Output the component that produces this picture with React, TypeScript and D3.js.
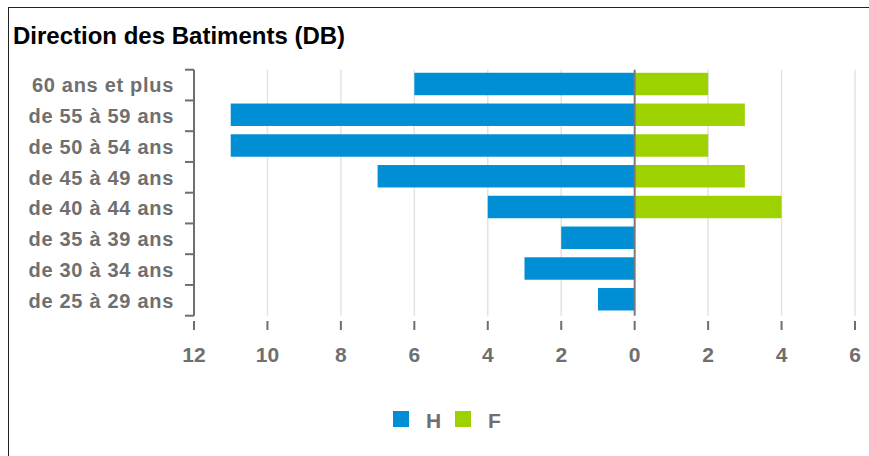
import React from 'react';
import * as d3 from 'd3';

// age groups, top to bottom
const categories = [
  '60 ans et plus',
  'de 55 à 59 ans',
  'de 50 à 54 ans',
  'de 45 à 49 ans',
  'de 40 à 44 ans',
  'de 35 à 39 ans',
  'de 30 à 34 ans',
  'de 25 à 29 ans',
];
const hommes = [6, 11, 11, 7, 4, 2, 3, 1];
const femmes = [2, 3, 2, 3, 4, 0, 0, 0];
const xTicks = [-12, -10, -8, -6, -4, -2, 0, 2, 4, 6];
const series = [
  { key: 'H', color: '#008fd5' },
  { key: 'F', color: '#9dd100' },
];

const W = 869;
const H = 456;
const FONT = 'Liberation Sans, Arial, sans-serif';
const GREY = '#6f6f6f';

const App = () => {
  const x = d3.scaleLinear().domain([-12, 6]).range([194, 855]);
  const y = d3.scaleBand().domain(categories).range([69.7, 315.7]).padding(0);
  const bw = y.bandwidth();
  const barY = (c: string) => (y(c) as number) + bw * 0.1;
  const barH = bw * 0.73;

  return (
    <svg width={W} height={H} style={{ position: 'absolute', left: 0, top: 0, background: '#fff' }}>
      {/* frame */}
      <rect x={8.5} y={7.5} width={W + 20} height={H + 20} fill="#fff" stroke="#222" strokeWidth={1} />

      <text x={13} y={44} fontFamily={FONT} fontWeight="bold" fontSize={24} fill="#000">
        Direction des Batiments (DB)
      </text>

      {/* grid */}
      {xTicks.filter(t => t !== 0).map(t => (
        <line key={t} x1={x(t)} x2={x(t)} y1={y.range()[0]} y2={y.range()[1]} stroke="#e3e3e3" strokeWidth={1.5} />
      ))}

      {/* bars */}
      {categories.map((c, i) => (
        <g key={c}>
          <rect x={x(-hommes[i])} y={barY(c)} width={x(0) - x(-hommes[i])} height={barH} fill={series[0].color} />
          {femmes[i] > 0 && (
            <rect x={x(0)} y={barY(c)} width={x(femmes[i]) - x(0)} height={barH} fill={series[1].color} />
          )}
        </g>
      ))}

      {/* zero line */}
      <line x1={x(0)} x2={x(0)} y1={y.range()[0]} y2={y.range()[1]} stroke="#7a7a7a" strokeWidth={2} />

      {/* y axis */}
      <line x1={x(-12)} x2={x(-12)} y1={y.range()[0]} y2={y.range()[1]} stroke={GREY} strokeWidth={2} />
      {[...categories.map(c => y(c) as number), y.range()[1]].map((v, i) => (
        <line key={i} x1={x(-12) - 9} x2={x(-12)} y1={v} y2={v} stroke={GREY} strokeWidth={2} />
      ))}
      {categories.map(c => (
        <text
          key={c}
          x={174}
          y={(y(c) as number) + bw / 2}
          dy="0.36em"
          textAnchor="end"
          fontFamily={FONT}
          fontWeight="bold"
          fontSize={20}
          letterSpacing={0.7}
          fill={GREY}
        >
          {c}
        </text>
      ))}

      {/* x axis ticks */}
      {xTicks.map(t => (
        <g key={t}>
          <line x1={x(t)} x2={x(t)} y1={321} y2={330} stroke={GREY} strokeWidth={2} />
          <text x={x(t)} y={362} textAnchor="middle" fontFamily={FONT} fontWeight="bold" fontSize={21} fill={GREY}>
            {Math.abs(t)}
          </text>
        </g>
      ))}

      {/* legend */}
      {series.map((s, i) => (
        <g key={s.key} transform={`translate(${393 + i * 62},411)`}>
          <rect width={16} height={16} fill={s.color} />
          <text x={33} y={16.5} fontFamily={FONT} fontWeight="bold" fontSize={21} fill={GREY}>
            {s.key}
          </text>
        </g>
      ))}
    </svg>
  );
};

export default App;
